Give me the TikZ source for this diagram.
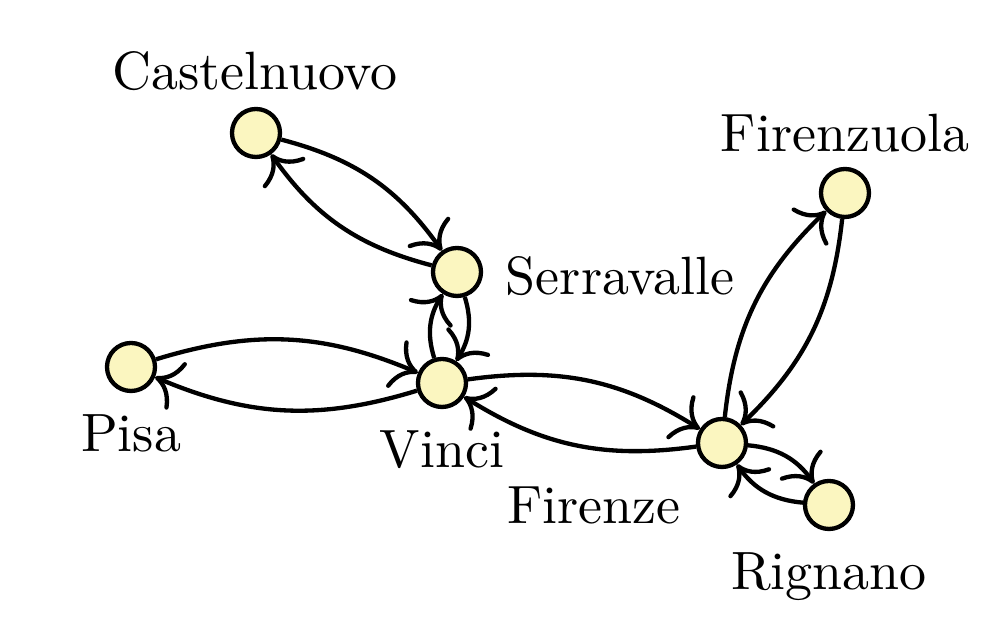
\documentclass[tikz,border=0pt]{standalone}
\usetikzlibrary{arrows.meta}
\begin{document}
\begin{tikzpicture}[x=0.0065104cm, y=-0.0065104cm,
  city/.style={circle, draw, line width=0.8pt, fill=cityfill, minimum size=8.9pt, inner sep=0pt},
  lbl/.style={anchor=base, inner sep=0pt},
  link/.style={-{To[scale=1.35]}, line width=0.8pt, bend left=20}]
\definecolor{cityfill}{RGB}{251,246,192}
\useasboundingbox (0,0) rectangle (1004,632);
\node[city] (cas) at (256,133) {};
\node[city] (ser) at (457,272) {};
\node[city] (pis) at (131,367) {};
\node[city] (vin) at (442,383) {};
\node[city] (fir) at (722,443) {};
\node[city] (fzu) at (845,193) {};
\node[city] (rig) at (829,505) {};
\node[lbl] (lcas) at (255,90) {Castelnuovo};
\node[lbl] (lser) at (620,295) {Serravalle};
\node[lbl] (lpis) at (131,452) {Pisa};
\node[lbl] (lvin) at (442,468) {Vinci};
\node[lbl] (lfir) at (594,524) {Firenze};
\node[lbl] (lfzu) at (845,152) {Firenzuola};
\node[lbl] (lrig) at (829,590) {Rignano};
\draw[link] (cas) to (ser);
\draw[link] (ser) to (cas);
\draw[link, bend left=25] (ser) to (vin);
\draw[link, bend left=25] (vin) to (ser);
\draw[link] (pis) to (vin);
\draw[link] (vin) to (pis);
\draw[link] (vin) to (fir);
\draw[link] (fir) to (vin);
\draw[link] (fir) to (fzu);
\draw[link] (fzu) to (fir);
\draw[link, bend left=25] (fir) to (rig);
\draw[link, bend left=25] (rig) to (fir);
\end{tikzpicture}
\end{document}
